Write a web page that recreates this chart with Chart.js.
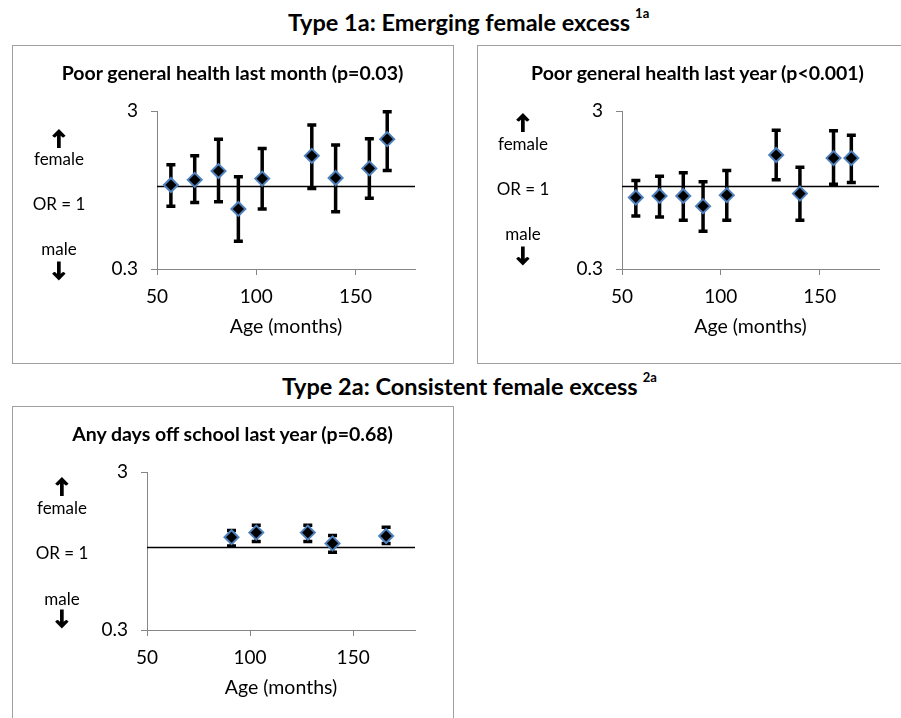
<!DOCTYPE html>
<html>
<head>
<meta charset="utf-8">
<script src="https://cdn.jsdelivr.net/npm/chart.js@4.4.0/dist/chart.umd.min.js"></script>
<style>
	body { margin: 0; background: #fff; overflow: hidden; }
	#page { position: relative; width: 901px; height: 718px; overflow: hidden; font-family: Lato, sans-serif; color: #000; }
	.frame { position: absolute; border: 1px solid #a0a0a0; box-sizing: border-box; }
	.box { position: absolute; }
	.lbl { position: absolute; transform: translate(-50%, -50%); white-space: nowrap; line-height: 1; }
	.arrow { -webkit-text-stroke: 1.6px #000; }
	.head { position: absolute; white-space: nowrap; font-weight: bold; font-size: 23.5px; line-height: 1; transform: translateY(-50%); }
	.head sup { font-size: 13px; position: relative; top: -4px; margin-left: 5px; }
</style>
</head>
<body>
<div id="page">
	<div class="head" style="left:288px;top:23px">Type 1a: Emerging female excess<sup>1a</sup></div>
	<div class="head" style="left:282px;top:387px">Type 2a: Consistent female excess<sup>2a</sup></div>

	<div class="frame" style="left:12px;top:45px;width:442px;height:319px"></div>
	<div class="frame" style="left:477px;top:45px;width:445px;height:319px"></div>
	<div class="frame" style="left:12px;top:406px;width:442px;height:330px"></div>

	<div class="box" style="left:12px;top:45px;width:441px;height:318px"><canvas id="c1"></canvas></div>
	<div class="box" style="left:477px;top:45px;width:424px;height:318px"><canvas id="c2"></canvas></div>
	<div class="box" style="left:12px;top:406px;width:441px;height:312px"><canvas id="c3"></canvas></div>
</div>
<script>
// ages (months), odds ratios and 95% limits
const monthAges = [57, 69, 81, 91, 103, 128, 140, 157, 166]
const monthOR = [1.02, 1.10, 1.25, 0.72, 1.12, 1.56, 1.13, 1.30, 1.99]
const monthLow = [0.75, 0.79, 0.80, 0.45, 0.72, 0.97, 0.69, 0.84, 1.26]
const monthHigh = [1.37, 1.56, 1.99, 1.15, 1.74, 2.45, 1.83, 2.00, 2.97]

const yearAges = [57, 69, 81, 91, 103, 128, 140, 157, 166]
const yearOR = [0.85, 0.87, 0.87, 0.75, 0.88, 1.58, 0.90, 1.51, 1.51]
const yearLow = [0.65, 0.64, 0.61, 0.52, 0.61, 1.10, 0.61, 1.03, 1.06]
const yearHigh = [1.09, 1.16, 1.22, 1.07, 1.26, 2.27, 1.32, 2.25, 2.11]

const schoolAges = [91, 103, 128, 140, 166]
const schoolOR = [1.16, 1.24, 1.24, 1.06, 1.18]
const schoolLow = [1.02, 1.09, 1.09, 0.93, 1.06]
const schoolHigh = [1.28, 1.38, 1.38, 1.19, 1.34]

const xTicks = [50, 100, 150]
const yTicks = [0.3, 3]
const xRange = [50, 180]
const refOR = 1

const page = document.getElementById('page')

function label(text, cx, cy, size, bold, cls) {
	const d = document.createElement('div')
	d.className = 'lbl' + (cls ? ' ' + cls : '')
	d.textContent = text
	d.style.left = cx + 'px'
	d.style.top = cy + 'px'
	d.style.fontSize = size + 'px'
	if (bold) d.style.fontWeight = 'bold'
	page.appendChild(d)
}

function sideLabels(cx, up, fem, or, male, down) {
	label('\u2191', cx, up, 19, true, 'arrow')
	label('female', cx, fem, 17)
	label('OR = 1', cx, or, 17)
	label('male', cx, male, 17)
	label('\u2193', cx, down, 19, true, 'arrow')
}

label('Poor general health last month (p=0.03)', 232.5, 73, 19.5, true)
label('Poor general health last year (p<0.001)', 697.5, 73, 19.5, true)
label('Any days off school last year (p=0.68)', 232.5, 434, 19.5, true)
sideLabels(59, 137, 158, 203, 248, 268)
sideLabels(523, 121, 143, 188, 233, 253)
sideLabels(62, 485, 507, 552, 598, 616)

Chart.defaults.font.family = 'Lato'
Chart.defaults.color = '#000'

// draws the confidence interval whiskers right after the OR = 1 line
const errorBars = {
	id: 'errorBars',
	afterDatasetDraw(chart, args, opts) {
		if (args.index !== 1) return
		const ctx = chart.ctx
		const x = chart.scales.x
		const y = chart.scales.y
		ctx.save()
		ctx.strokeStyle = '#000'
		ctx.lineWidth = 3.5
		ctx.lineCap = 'butt'
		opts.ages.forEach((a, i) => {
			const px = x.getPixelForValue(a)
			const top = y.getPixelForValue(opts.high[i])
			const bot = y.getPixelForValue(opts.low[i])
			ctx.beginPath()
			ctx.moveTo(px, top)
			ctx.lineTo(px, bot)
			ctx.moveTo(px - 4.5, top)
			ctx.lineTo(px + 4.5, top)
			ctx.moveTo(px - 4.5, bot)
			ctx.lineTo(px + 4.5, bot)
			ctx.stroke()
		})
		ctx.restore()
	}
}

function orChart(id, ages, or, low, high, box, area) {
	const padL = 38
	const yWidth = area.left - padL
	const xHeight = 70
	new Chart(document.getElementById(id), {
		type: 'scatter',
		data: {
			datasets: [
				{
					data: ages.map((a, i) => ({ x: a, y: or[i] })),
					pointStyle: 'rectRot',
					pointRadius: 7,
					pointHoverRadius: 7,
					backgroundColor: '#000',
					borderColor: '#4f81bd',
					borderWidth: 2,
					order: 1
				},
				{
					type: 'line',
					data: [{ x: xRange[0], y: refOR }, { x: xRange[1], y: refOR }],
					borderColor: '#000',
					borderWidth: 1.5,
					pointRadius: 0,
					order: 2
				}
			]
		},
		options: {
			responsive: true,
			maintainAspectRatio: false,
			animation: false,
			events: [],
			layout: {
				padding: {
					left: padL,
					right: box.width - area.right,
					top: area.top,
					bottom: box.height - area.bottom - xHeight
				}
			},
			plugins: {
				legend: { display: false },
				tooltip: { enabled: false },
				errorBars: { ages: ages, low: low, high: high }
			},
			scales: {
				x: {
					type: 'linear',
					min: xRange[0],
					max: xRange[1],
					afterBuildTicks: (s) => { s.ticks = xTicks.map(v => ({ value: v })) },
					afterFit: (s) => { s.height = xHeight },
					grid: { drawOnChartArea: false, tickLength: 6, color: '#868686' },
					border: { color: '#868686' },
					ticks: { font: { size: 19 }, padding: 10, color: '#000' },
					title: { display: true, text: 'Age (months)', font: { size: 19.5 }, padding: { top: 0, bottom: 1 } }
				},
				y: {
					type: 'logarithmic',
					min: yTicks[0],
					max: yTicks[yTicks.length - 1],
					afterBuildTicks: (s) => { s.ticks = yTicks.map(v => ({ value: v })) },
					afterFit: (s) => { s.width = yWidth },
					grid: { drawOnChartArea: false, tickLength: 6, color: '#868686' },
					border: { color: '#868686' },
					ticks: { font: { size: 19 }, padding: 13, color: '#000', callback: (v) => String(v) }
				}
			}
		},
		plugins: [errorBars]
	})
}

orChart('c1', monthAges, monthOR, monthLow, monthHigh,
	{ width: 441, height: 318 }, { left: 145, right: 403, top: 66, bottom: 224 })
orChart('c2', yearAges, yearOR, yearLow, yearHigh,
	{ width: 424, height: 318 }, { left: 145, right: 402, top: 66, bottom: 224 })
orChart('c3', schoolAges, schoolOR, schoolLow, schoolHigh,
	{ width: 441, height: 312 }, { left: 135, right: 403, top: 66, bottom: 224 })
</script>
</body>
</html>
